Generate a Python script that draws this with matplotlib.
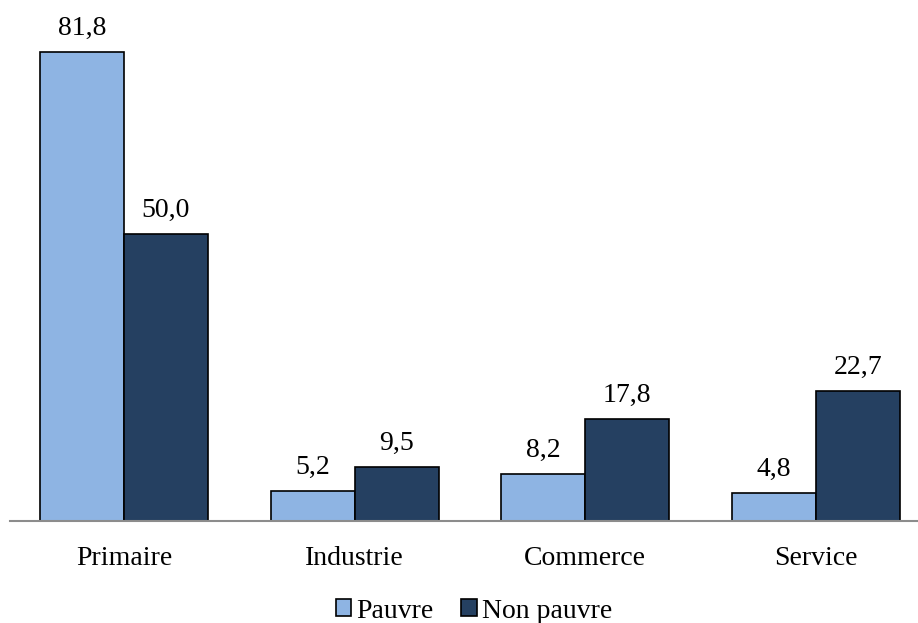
import numpy as np
import matplotlib
matplotlib.use('Agg')
import matplotlib.pyplot as plt

categories = ['Primaire', 'Industrie', 'Commerce', 'Service']
pauvre = [81.8, 5.2, 8.2, 4.8]
non_pauvre = [50.0, 9.5, 17.8, 22.7]

plt.rcParams['font.family'] = ['Liberation Serif', 'DejaVu Serif']

fig = plt.figure(figsize=(9.18, 6.23), dpi=100)
ax = fig.add_axes([10 / 918, 1 - 521 / 623, 908 / 918, 521 / 623])

x = np.arange(len(categories))
w = 0.364
b1 = ax.bar(x - w / 2, pauvre, w, color='#8EB4E3', edgecolor='black', linewidth=1.2, label='Pauvre')
b2 = ax.bar(x + w / 2, non_pauvre, w, color='#254061', edgecolor='black', linewidth=1.2, label='Non pauvre')

for bars, vals in ((b1, pauvre), (b2, non_pauvre)):
    for r, v in zip(bars, vals):
        ax.annotate(f'{v:.1f}'.replace('.', ','), (r.get_x() + r.get_width() / 2, v),
                    xytext=(0, 8), textcoords='offset points',
                    ha='center', va='bottom', fontsize=20)

ax.set_xlim(-0.494, 3.442)
ax.set_ylim(0, 90.9)
for s in ('top', 'right', 'left'):
    ax.spines[s].set_visible(False)
ax.spines['bottom'].set_color('#8C8C8C')
ax.spines['bottom'].set_linewidth(1.5)
ax.set_yticks([])
ax.set_xticks(x)
ax.set_xticklabels(categories, fontsize=20)
ax.tick_params(axis='x', length=0, pad=18)

fig.legend(loc='center', bbox_to_anchor=(474 / 918, 1 - 611 / 623), ncol=2, frameon=False,
           fontsize=20, handlelength=0.55, handleheight=0.55, handletextpad=0.2,
           columnspacing=1.0)

fig.savefig('out.png', dpi=100)
